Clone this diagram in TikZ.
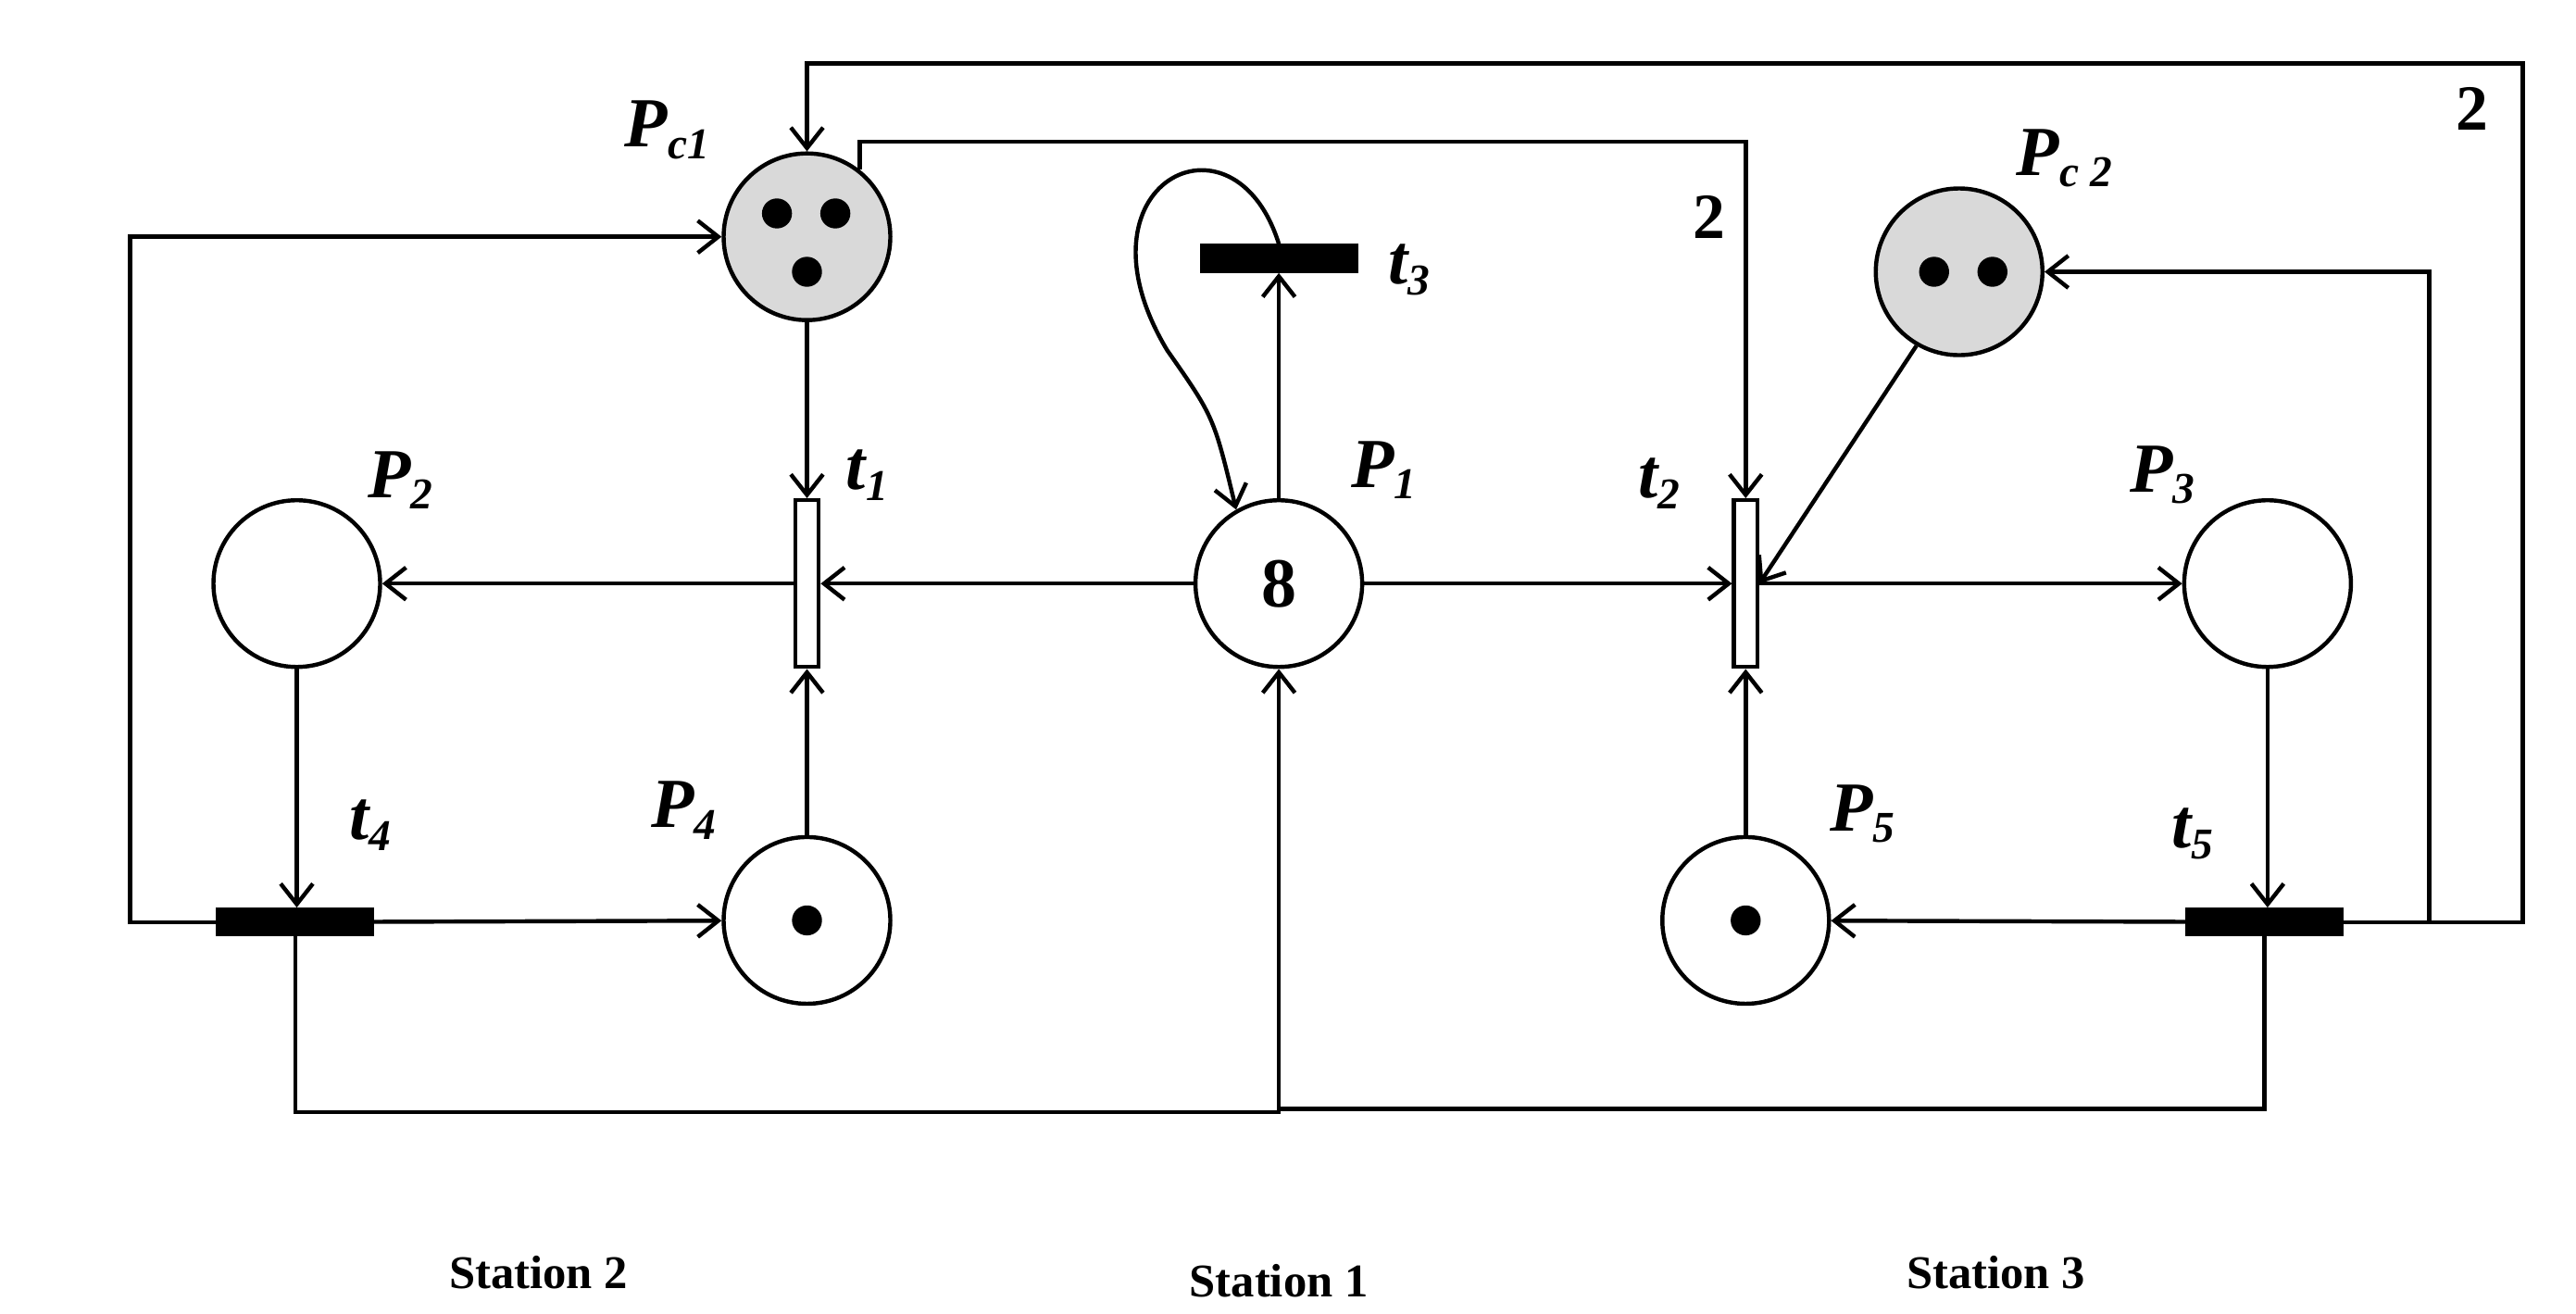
\documentclass[tikz,border=0pt]{standalone}
\usepackage{fontspec}
\setmainfont{Liberation Serif}
\usetikzlibrary{arrows.meta}
\newcommand{\sbx}[1]{\raisebox{-0.35ex}{\fontsize{15}{15}\selectfont #1}}
\begin{document}
\begin{tikzpicture}[x=0.02cm,y=-0.02cm,
  every path/.style={line width=1.4pt},
  arr/.style={-{Straight Barb[length=7pt,width=11pt,line width=1.4pt]}},
  place/.style={circle,draw,line width=1.4pt,minimum size=2cm,inner sep=0pt},
  gplace/.style={place,fill=gray!30},
  tok/.style={circle,fill=black,inner sep=0pt,minimum size=0.36cm},
  vtr/.style={draw,fill=white,line width=1.4pt,minimum width=0.28cm,minimum height=2cm,inner sep=0pt},
  htr/.style={draw,fill=black,minimum width=1.85cm,minimum height=0.3cm,inner sep=0pt},
  lab/.style={font=\fontsize{24}{24}\selectfont\bfseries\itshape},
  wt/.style={font=\fontsize{22}{22}\selectfont\bfseries},
  st/.style={font=\fontsize{16}{16}\selectfont\bfseries}]
\useasboundingbox (0,0) rectangle (1545,788);
% places
\node[gplace] (Pc1) at (484,142) {};
\node[gplace] (Pc2) at (1175,163) {};
\node[place,font=\fontsize{24}{24}\selectfont\bfseries] (P1) at (767,350) {8};
\node[place] (P2) at (178,350) {};
\node[place] (P3) at (1360,350) {};
\node[place] (P4) at (484,552) {};
\node[place] (P5) at (1047,552) {};
\node[tok] at (466,128) {};\node[tok] at (501,128) {};\node[tok] at (484,163) {};
\node[tok] at (1160,163) {};\node[tok] at (1195,163) {};
\node[tok] at (484,552) {};\node[tok] at (1047,552) {};
% transitions
\node[vtr] (t1) at (484,350) {};
\node[vtr] (t2) at (1047,350) {};
\node[htr] (t3) at (767,155) {};
\node[htr] (t4) at (177,553) {};
\node[htr] (t5) at (1358,553) {};
% labels
\node[lab] (lPc1) at (400,78) {P\sbx{c1}};
\node[lab] (lPc2) at (1238,95) {P\sbx{c 2}};
\node[lab] (lP1) at (830,282) {P\sbx{1}};
\node[lab] (lP2) at (240,288) {P\sbx{2}};
\node[lab] (lP3) at (1297,285) {P\sbx{3}};
\node[lab] (lP4) at (410,486) {P\sbx{4}};
\node[lab] (lP5) at (1117,488) {P\sbx{5}};
\node[lab] (lt1) at (520,285) {t\sbx{1}};
\node[lab] (lt2) at (995,290) {t\sbx{2}};
\node[lab] (lt3) at (845,162) {t\sbx{3}};
\node[lab] (lt4) at (222,495) {t\sbx{4}};
\node[lab] (lt5) at (1315,500) {t\sbx{5}};
\node[wt] (w1) at (1025,130) {2};
\node[wt] (w2) at (1483,65) {2};
\node[st] (s2) at (323,763) {Station 2};
\node[st] (s1) at (767,768) {Station 1};
\node[st] (s3) at (1197,763) {Station 3};
% arcs
\draw[arr] (P1) -- (t1);
\draw[arr] (t1) -- (P2);
\draw[arr] (P1) -- (t2);
\draw[arr] (t2) -- (P3);
\draw[arr] (Pc1) -- (t1);
\draw[arr] (P4) -- (t1);
\draw[arr] (P5) -- (t2);
\draw[arr] (Pc2.240) -- (t2.east);
\draw[arr] (Pc1.52) |- (520,85) -| (t2.north);
\draw[arr] (P1) -- (t3);
\draw[arr] (t3.north) .. controls (740,60) and (640,110) .. (700,210) .. controls (728,250) .. (P1.120);
\draw[arr] (P2) -- (P2 |- t4.north);
\draw[arr] (t4) -- (P4);
\draw[arr] (t4.west) -| (78,142) -- (Pc1);
\draw[arr] (t4.south) |- (767,667) -- (P1);
\draw (t5.south) |- (767,665);
\draw[arr] (P3) -- (P3 |- t5.north);
\draw[arr] (t5) -- (P5);
\draw[arr] (t5.east) -| (1457,163) -- (Pc2);
\draw[arr] (t5.east) -| (1513,38) -| (Pc1.north);
\end{tikzpicture}
\end{document}
